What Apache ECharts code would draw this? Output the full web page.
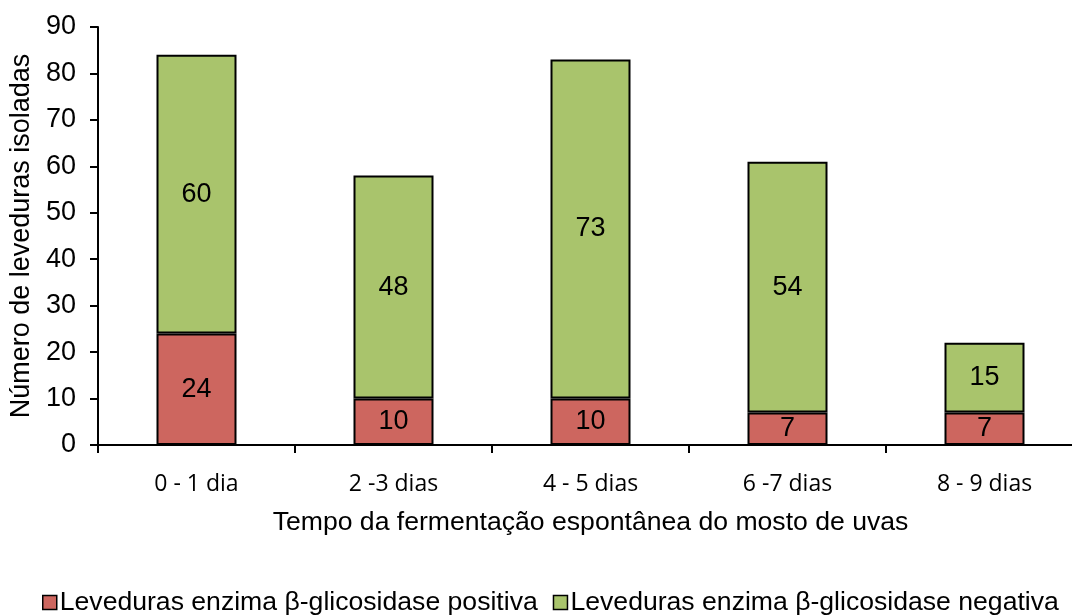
<!DOCTYPE html>
<html>
<head>
<meta charset="utf-8">
<script src="https://cdn.jsdelivr.net/npm/echarts@6/dist/echarts.min.js"></script>
<style>html,body{margin:0;padding:0;background:#fff;overflow:hidden;}#c{width:1083px;height:615px;}</style>
</head>
<body>
<div id="c"></div>
<script>
const categories = ['0 - 1 dia', '2 -3 dias', '4 - 5 dias', '6 -7 dias', '8 - 9 dias'];
const positiva = [24, 10, 10, 7, 7];
const negativa = [60, 48, 73, 54, 15];
const seriesNames = ['Leveduras enzima β-glicosidase positiva', 'Leveduras enzima β-glicosidase negativa'];
const yTicks = [0, 10, 20, 30, 40, 50, 60, 70, 80, 90];

const chart = echarts.init(document.getElementById('c'), null, {renderer: 'canvas'});
const font = 'Liberation Sans, Arial, sans-serif';
const labelStyle = {show: true, position: 'inside', color: '#000', fontSize: 27, fontFamily: font};
chart.setOption({
  animation: false,
  grid: {left: 98, right: 0, top: 27, bottom: 170, containLabel: false},
  legend: {
    left: 37, top: 584, itemWidth: 14, itemHeight: 14, itemGap: 15,
    icon: 'rect',
    itemStyle: {borderColor: '#000', borderWidth: 1.5},
    textStyle: {fontSize: 26.6, fontFamily: font, color: '#000', padding: [0, 0, 0, -2]},
    data: seriesNames
  },
  xAxis: {
    type: 'category', data: categories,
    name: 'Tempo da fermentação espontânea do mosto de uvas',
    nameLocation: 'middle', nameGap: 64,
    nameTextStyle: {fontSize: 26.6, fontFamily: font, color: '#000'},
    axisLine: {lineStyle: {color: '#000', width: 2}},
    axisTick: {show: true, length: 8, lineStyle: {color: '#000', width: 2}},
    axisLabel: {color: '#000', fontSize: 23, fontFamily: 'Open Sans, sans-serif', margin: 28}
  },
  yAxis: {
    type: 'value', min: yTicks[0], max: yTicks[yTicks.length - 1], interval: 10,
    name: 'Número de leveduras isoladas',
    nameLocation: 'middle', nameGap: 60,
    nameTextStyle: {fontSize: 27, fontFamily: font, color: '#000'},
    axisLine: {show: true, lineStyle: {color: '#000', width: 2}},
    axisTick: {show: true, length: 8, lineStyle: {color: '#000', width: 2}},
    axisLabel: {color: '#000', fontSize: 27, fontFamily: font, margin: 22},
    splitLine: {show: false}
  },
  series: [
    {
      name: seriesNames[0], type: 'bar', stack: 'total', data: positiva, barWidth: 80,
      itemStyle: {color: '#CD665F', borderColor: '#000', borderWidth: 2},
      label: labelStyle
    },
    {
      name: seriesNames[1], type: 'bar', stack: 'total', data: negativa, barWidth: 80,
      itemStyle: {color: '#A9C46C', borderColor: '#000', borderWidth: 2},
      label: labelStyle
    }
  ]
});
</script>
</body>
</html>
